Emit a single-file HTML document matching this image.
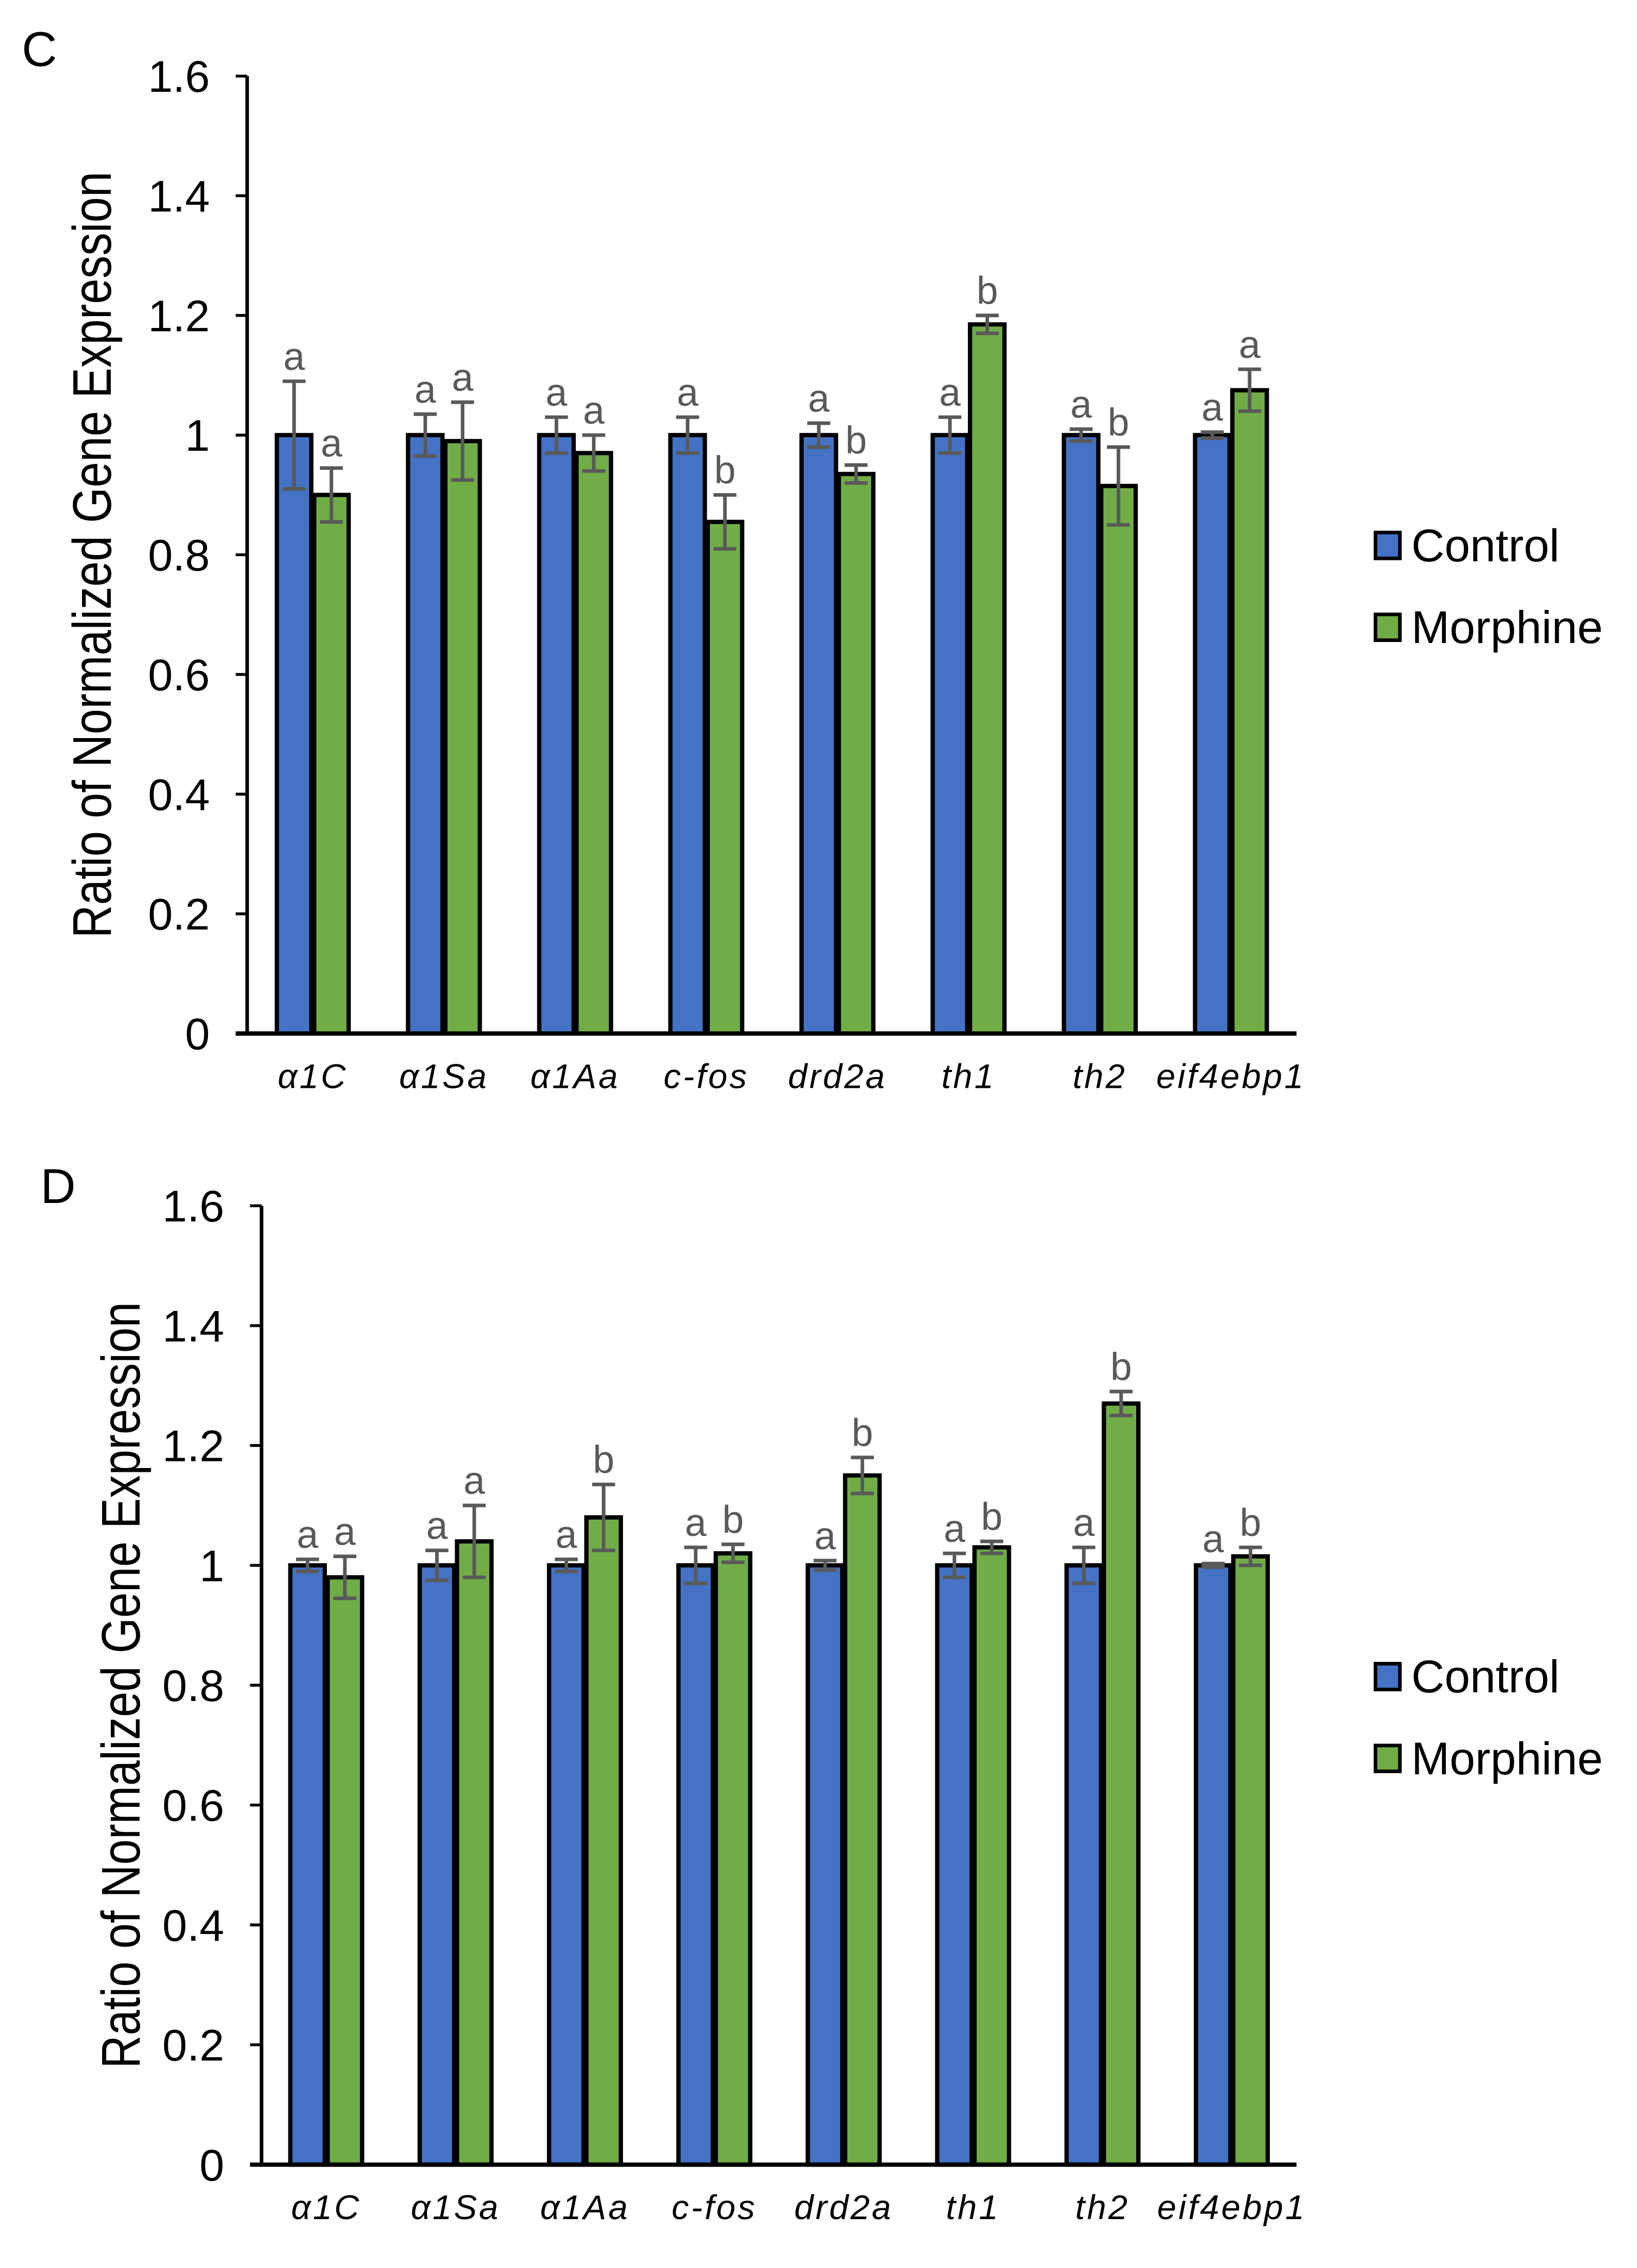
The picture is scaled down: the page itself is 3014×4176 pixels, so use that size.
<!DOCTYPE html>
<html><head><meta charset="utf-8"><style>
html,body{margin:0;padding:0;background:#fff;}
svg{display:block;}
text{font-family:"Liberation Sans",sans-serif;}
</style></head><body>
<svg id="fig" width="3014" height="4176" viewBox="0 0 1140 1580" xmlns="http://www.w3.org/2000/svg"></svg>
<script>
const categories = ["α1C","α1Sa","α1Aa","c-fos","drd2a","th1","th2","eif4ebp1"];
const yTicks = [0,0.2,0.4,0.6,0.8,1,1.2,1.4,1.6];
const yTickLabels = ["0","0.2","0.4","0.6","0.8","1","1.2","1.4","1.6"];
const seriesNames = ["Control","Morphine"];
const cControl = [1,1,1,1,1,1,1,1];
const cControlErr = [0.09,0.035,0.03,0.03,0.02,0.03,0.01,0.005];
const cMorphine = [0.90,0.99,0.97,0.855,0.935,1.185,0.915,1.075];
const cMorphineErr = [0.045,0.065,0.03,0.045,0.015,0.015,0.065,0.035];
const cControlLetters = ["a","a","a","a","a","a","a","a"];
const cMorphineLetters = ["a","a","a","b","b","b","b","a"];
const dControl = [1,1,1,1,1,1,1,1];
const dControlErr = [0.01,0.025,0.01,0.03,0.008,0.02,0.03,0.003];
const dMorphine = [0.98,1.04,1.08,1.02,1.15,1.03,1.27,1.015];
const dMorphineErr = [0.035,0.06,0.055,0.015,0.03,0.01,0.02,0.015];
const dControlLetters = ["a","a","a","a","a","a","a","a"];
const dMorphineLetters = ["a","a","b","b","b","b","b","b"];

const svg = document.getElementById('fig');
const NS = "http://www.w3.org/2000/svg";
function mk(tag, attrs, parent){
  const e = document.createElementNS(NS, tag);
  for (const k in attrs) e.setAttribute(k, attrs[k]);
  (parent||svg).appendChild(e);
  return e;
}
const COLORS = ["#4472C4","#70AD47"];

function panel(opt){
  const g = mk('g', {});
  
  
  const yScale = v => opt.y0 - (v/1.6)*(opt.y0 - opt.yTop);
  const step = (opt.xEnd - opt.xAxis)/categories.length;
  const xCenter = i => opt.xAxis + step*(i+0.5);
  const bw = 24, gap = 2;

  const pl = mk('text', {x: opt.lx, y: opt.ly, 'font-size': 34, fill: '#000'}, g);
  pl.textContent = opt.letter;
  
  

  yTicks.forEach((t, i) => {
    const y = yScale(t);
    const tk = mk('line', {x1: opt.xAxis-8, x2: opt.xAxis, y1: y, y2: y, stroke: '#000', 'stroke-width': 2}, g);
    
    
    const tl = mk('text', {x: opt.xAxis-26, y: y+11, 'font-size': 31, 'text-anchor': 'end', fill: '#000'}, g);
    tl.textContent = yTickLabels[i];
    
    
  });

  const yt = mk('text', {x: 0, y: 0, 'font-size': 38, 'text-anchor': 'middle', fill: '#000',
    transform: `translate(${opt.titleX},${(opt.y0+opt.yTop)/2}) rotate(-90) scale(0.84,1)`}, g);
  yt.textContent = "Ratio of Normalized  Gene Expression";
  
  

  const series = [[opt.ctrl, opt.ctrlErr, opt.ctrlLet],[opt.mor, opt.morErr, opt.morLet]];
  categories.forEach((c, i) => {
    series.forEach((s, si) => {
      const v = s[0][i], e = s[1][i];
      const x = si === 0 ? xCenter(i) - gap/2 - bw : xCenter(i) + gap/2;
      const yt2 = yScale(v);
      const r = mk('rect', {x: x, y: yt2, width: bw, height: opt.y0 - yt2, fill: COLORS[si], stroke: '#000', 'stroke-width': 3}, g);
      
      
      const cx = x + bw/2;
      const eh = yScale(v+e), el = yScale(v-e);
      const eb = mk('path', {d: `M${cx},${eh}V${el}M${cx-8},${eh}H${cx+8}M${cx-8},${el}H${cx+8}`, stroke: '#595959', 'stroke-width': 2.5, fill: 'none'}, g);
      
      
      const lt = mk('text', {x: cx, y: eh - 8, 'font-size': 27, 'text-anchor': 'middle', fill: '#595959'}, g);
      lt.textContent = s[2][i];
      
      
    });
    const xl = mk('text', {x: xCenter(i), y: opt.y0 + 38, 'font-size': 24, 'font-style': 'italic', 'letter-spacing': 1.5, 'text-anchor': 'middle', fill: '#000'}, g);
    xl.textContent = c;
    
    
  });

  const ya = mk('line', {x1: opt.xAxis, x2: opt.xAxis, y1: opt.yTop, y2: opt.y0, stroke: '#000', 'stroke-width': 2.5}, g);
  
  
  const xa = mk('line', {x1: opt.xAxis-8, x2: opt.xEnd, y1: opt.y0, y2: opt.y0, stroke: '#000', 'stroke-width': 3}, g);
  
  

  seriesNames.forEach((n, si) => {
    const ly = opt.legY + si*57;
    const sw = mk('rect', {x: 958, y: ly-18, width: 17, height: 18, fill: COLORS[si], stroke: '#000', 'stroke-width': 2.5}, g);
    
    
    const lt = mk('text', {x: 983, y: ly+2, 'font-size': 32, fill: '#000'}, g);
    lt.textContent = n;
    
    
  });
}

panel({letter:'C', lx:15, ly:46, xAxis:172, xEnd:903, yTop:53, y0:720, titleX:77, legY:389,
  ctrl:cControl, ctrlErr:cControlErr, ctrlLet:cControlLetters, mor:cMorphine, morErr:cMorphineErr, morLet:cMorphineLetters});
panel({letter:'D', lx:28, ly:838, xAxis:182, xEnd:903, yTop:840, y0:1508, titleX:97, legY:1177,
  ctrl:dControl, ctrlErr:dControlErr, ctrlLet:dControlLetters, mor:dMorphine, morErr:dMorphineErr, morLet:dMorphineLetters});
</script>
</body></html>
